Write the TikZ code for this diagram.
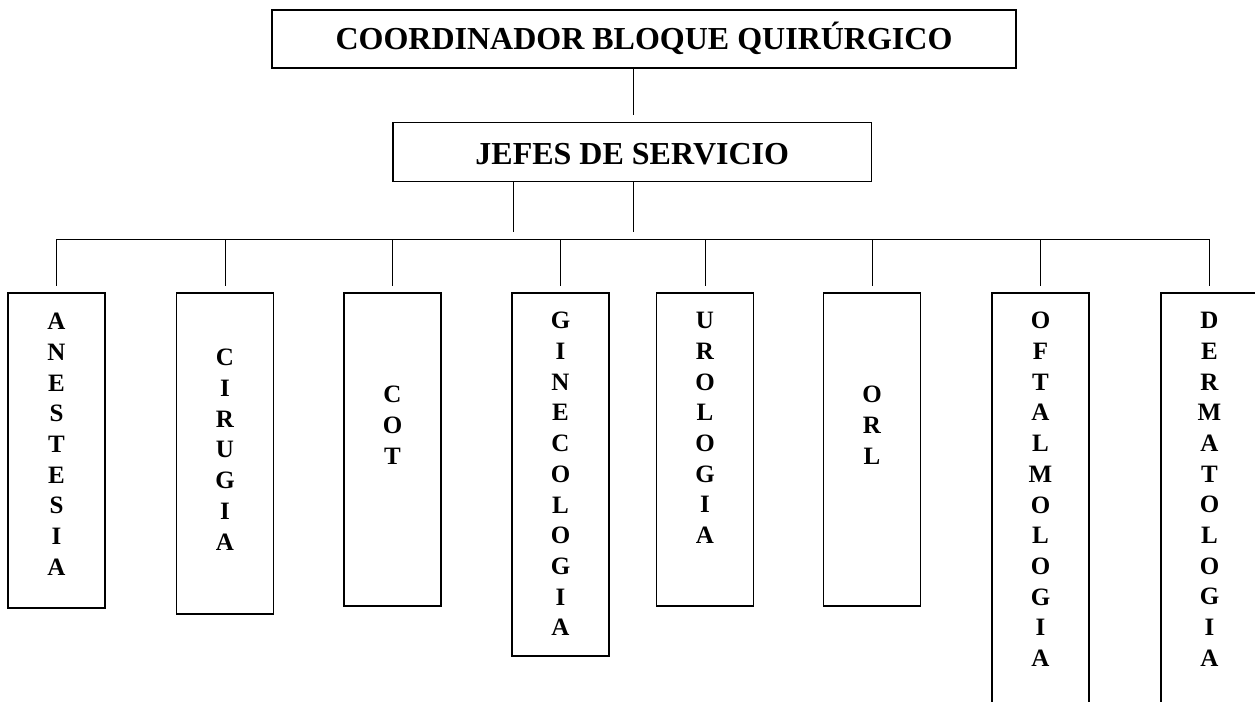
\documentclass[tikz,border=0pt]{standalone}
\usepackage{fontspec}
\setmainfont{Liberation Serif}
\usetikzlibrary{positioning}

\begin{document}
\begin{tikzpicture}[x=0.5pt, y=-0.5pt]
  \tikzstyle{box}=[draw, line width=0.65pt, inner sep=0pt, font=\fontsize{16}{19}\selectfont\bfseries, text height=10.6pt, text depth=0pt]
  \tikzstyle{dept}=[draw, line width=0.65pt, minimum width=48.5pt, inner sep=0pt]
  \tikzstyle{letters}=[inner sep=0pt, align=center, font=\fontsize{12.5}{15.35}\selectfont\bfseries]
  \tikzstyle{line}=[line width=0.5pt]
  \tikzstyle{drop}=[line width=0.5pt, shorten >=3pt]

  \useasboundingbox (0,0) rectangle (1255,702);

  \node[box, minimum width=372pt, minimum height=29pt]      (coord) at (644,   39)  {COORDINADOR BLOQUE QUIRÚRGICO};
  \node[box, minimum width=239.25pt, minimum height=29.5pt, text height=12.6pt] (jefes) at (632.25, 152.2) {JEFES DE SERVICIO};

  \node[dept, minimum height=157.5pt] (anest) at (56.5,   450.5) {};
  \node[dept, minimum height=160.5pt] (cirug) at (225,    453.5) {};
  \node[dept, minimum height=156.5pt] (cot)   at (392.5,  449.5) {};
  \node[dept, minimum height=181.5pt] (gine)  at (560.5,  474.5) {};
  \node[dept, minimum height=156.5pt] (uro)   at (705,    449.5) {};
  \node[dept, minimum height=156.5pt] (orl)   at (872,    449.5) {};
  \node[dept, minimum height=218.5pt] (oftal) at (1040.5, 511.5) {};
  \node[dept, minimum height=218.5pt] (derm)  at (1209.5, 511.5) {};

  \node[letters, below=10.25pt of anest.north] (anestt) {A\\N\\E\\S\\T\\E\\S\\I\\A};
  \node[letters, below=28.25pt of cirug.north] (cirugt) {C\\I\\R\\U\\G\\I\\A};
  \node[letters, below=46.75pt of cot.north]   (cott)   {C\\O\\T};
  \node[letters, below=9.75pt of gine.north]   (ginet)  {G\\I\\N\\E\\C\\O\\L\\O\\G\\I\\A};
  \node[letters, below=9.75pt of uro.north]    (urot)   {U\\R\\O\\L\\O\\G\\I\\A};
  \node[letters, below=46.75pt of orl.north]   (orlt)   {O\\R\\L};
  \node[letters, below=9.75pt of oftal.north]  (oftalt) {O\\F\\T\\A\\L\\M\\O\\L\\O\\G\\I\\A};
  \node[letters, below=9.75pt of derm.north]   (dermt)  {D\\E\\R\\M\\A\\T\\O\\L\\O\\G\\I\\A};

  \coordinate (jl)  at (513, 232);
  \coordinate (jr)  at (633, 232);
  \coordinate (bar) at (0,   239);

  \draw[line, shorten >=3.75pt] (coord.south -| jr) -- (jefes.north -| jr);
  \draw[line] (jefes.south -| jl) -- (jl);
  \draw[line] (jefes.south -| jr) -- (jr);
  \draw[line] (anest.north |- bar) -- (derm.north |- bar);

  \draw[drop] (anest.north |- bar) -- (anest.north);
  \draw[drop] (cirug.north |- bar) -- (cirug.north);
  \draw[drop] (cot.north |- bar)   -- (cot.north);
  \draw[drop] (gine.north |- bar)  -- (gine.north);
  \draw[drop] (uro.north |- bar)   -- (uro.north);
  \draw[drop] (orl.north |- bar)   -- (orl.north);
  \draw[drop] (oftal.north |- bar) -- (oftal.north);
  \draw[drop] (derm.north |- bar)  -- (derm.north);
\end{tikzpicture}
\end{document}
